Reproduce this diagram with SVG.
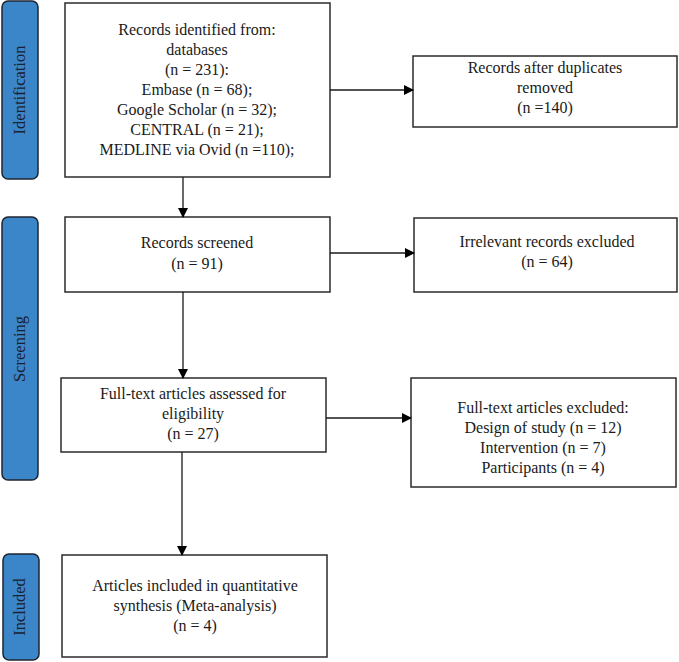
<svg xmlns="http://www.w3.org/2000/svg" width="679" height="662" viewBox="0 0 679 662">
<style>
.box{fill:#fff;stroke:#2b2b2b;stroke-width:1.5}
.bar{fill:#3a86c8;stroke:#1e2530;stroke-width:1.5}
.t{font-family:"Liberation Serif","Times New Roman",serif;font-size:16px;fill:#1a1a1a;text-anchor:middle}
.bt{font-family:"Liberation Serif","Times New Roman",serif;font-size:16.5px;fill:#1a2030;text-anchor:middle}
.ln{stroke:#1a1a1a;stroke-width:1.3;fill:none}
</style>
<defs>
<marker id="ah" markerWidth="10" markerHeight="10" refX="9" refY="5" orient="auto" markerUnits="userSpaceOnUse">
<path d="M0,0 L10,5 L0,10 Z" fill="#000"/>
</marker>
</defs>
<g id="bar-identification">
<rect class="bar" x="2" y="1" width="36" height="178" rx="6"/>
<text class="bt" transform="translate(25,90) rotate(-90)">Identification</text>
</g>
<g id="bar-screening">
<rect class="bar" x="2" y="217" width="36" height="263" rx="6"/>
<text class="bt" transform="translate(25,349) rotate(-90)">Screening</text>
</g>
<g id="bar-included">
<rect class="bar" x="3" y="554" width="36" height="106" rx="6"/>
<text class="bt" transform="translate(25,607) rotate(-90)">Included</text>
</g>
<g id="n-identified">
<rect class="box" x="65" y="3" width="265" height="174"/>
<text class="t" x="197" y="35">Records identified from:</text>
<text class="t" x="197" y="55">databases</text>
<text class="t" x="197" y="75">(n = 231):</text>
<text class="t" x="197" y="95">Embase (n = 68);</text>
<text class="t" x="197" y="115">Google Scholar (n = 32);</text>
<text class="t" x="197" y="135">CENTRAL (n = 21);</text>
<text class="t" x="197" y="155">MEDLINE via Ovid (n =110);</text>
</g>
<g id="n-duplicates">
<rect class="box" x="413" y="56" width="264" height="71"/>
<text class="t" x="545" y="73">Records after duplicates</text>
<text class="t" x="545" y="93">removed</text>
<text class="t" x="545" y="113">(n =140)</text>
</g>
<g id="n-screened">
<rect class="box" x="65" y="217" width="265" height="75"/>
<text class="t" x="197" y="248">Records screened</text>
<text class="t" x="197" y="269">(n = 91)</text>
</g>
<g id="n-irrelevant">
<rect class="box" x="414" y="218" width="263" height="74"/>
<text class="t" x="547" y="247">Irrelevant records excluded</text>
<text class="t" x="547" y="267">(n = 64)</text>
</g>
<g id="n-fulltext">
<rect class="box" x="61" y="378" width="265" height="74"/>
<text class="t" x="193" y="399">Full-text articles assessed for</text>
<text class="t" x="193" y="419">eligibility</text>
<text class="t" x="193" y="439">(n = 27)</text>
</g>
<g id="n-excluded">
<rect class="box" x="411" y="378" width="265" height="109"/>
<text class="t" x="543" y="413">Full-text articles excluded:</text>
<text class="t" x="543" y="433">Design of study (n = 12)</text>
<text class="t" x="543" y="453">Intervention (n = 7)</text>
<text class="t" x="543" y="473">Participants (n = 4)</text>
</g>
<g id="n-included">
<rect class="box" x="62" y="555" width="265" height="102"/>
<text class="t" x="195" y="591">Articles included in quantitative</text>
<text class="t" x="195" y="611">synthesis (Meta-analysis)</text>
<text class="t" x="195" y="631">(n = 4)</text>
</g>
<g id="connectors">
<line class="ln" x1="183" y1="177" x2="183" y2="217" marker-end="url(#ah)"/>
<line class="ln" x1="330" y1="90" x2="413" y2="90" marker-end="url(#ah)"/>
<line class="ln" x1="183" y1="292" x2="183" y2="378" marker-end="url(#ah)"/>
<line class="ln" x1="330" y1="253" x2="414" y2="253" marker-end="url(#ah)"/>
<line class="ln" x1="326" y1="418" x2="411" y2="418" marker-end="url(#ah)"/>
<line class="ln" x1="182" y1="452" x2="182" y2="555" marker-end="url(#ah)"/>
</g>
</svg>
